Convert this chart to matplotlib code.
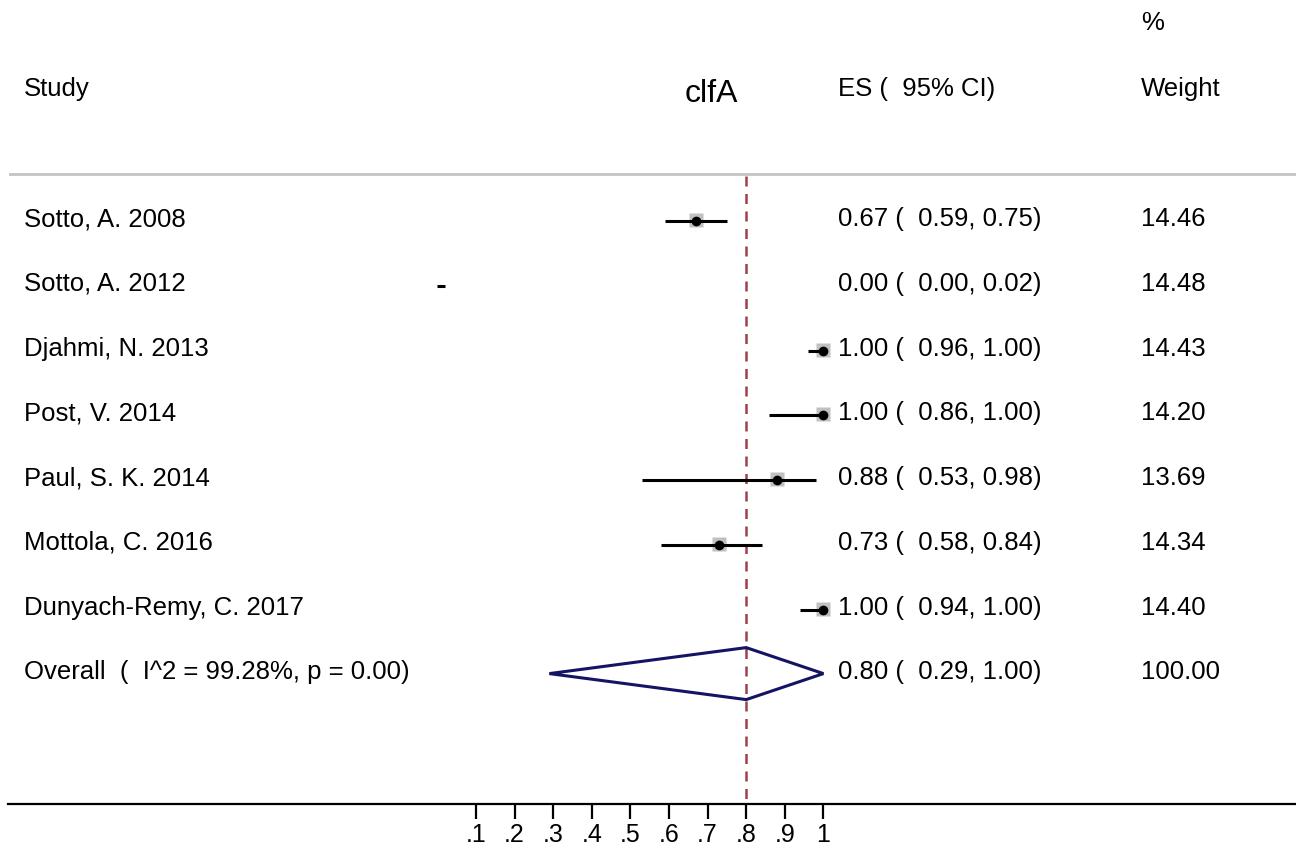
import matplotlib
matplotlib.use("Agg")
from matplotlib import pyplot as plt
from matplotlib.patches import Polygon

plt.rcParams['font.family'] = ['Liberation Sans', 'DejaVu Sans']

studies = ["Sotto, A. 2008", "Sotto, A. 2012", "Djahmi, N. 2013", "Post, V. 2014",
           "Paul, S. K. 2014", "Mottola, C. 2016", "Dunyach-Remy, C. 2017"]
es = [0.67, 0.00, 1.00, 1.00, 0.88, 0.73, 1.00]
lo = [0.59, 0.00, 0.96, 0.86, 0.53, 0.58, 0.94]
hi = [0.75, 0.02, 1.00, 1.00, 0.98, 0.84, 1.00]
weight = [14.46, 14.48, 14.43, 14.20, 13.69, 14.34, 14.40]

overall_label = "Overall  (  I^2 = 99.28%, p = 0.00)"
overall_es, overall_lo, overall_hi = 0.80, 0.29, 1.00
overall_weight = 100.00

ticks = [0.1, 0.2, 0.3, 0.4, 0.5, 0.6, 0.7, 0.8, 0.9, 1.0]
tick_labels = [".1", ".2", ".3", ".4", ".5", ".6", ".7", ".8", ".9", "1"]

W, H = 1296, 853
fig = plt.figure(figsize=(W / 100, H / 100), dpi=100)

# axes: x in data units, y in pixels from top; bottom spine is the scale line
x0_px, x_scale = 437.4, 386.0
ax_left, ax_bottom = 8, 805
ax = fig.add_axes([ax_left / W, (H - ax_bottom) / H, 1 - ax_left / W, ax_bottom / H])
ax.set_xlim((ax_left - x0_px) / x_scale, (W - x0_px) / x_scale)
ax.set_ylim(ax_bottom, 0)
for s in ["top", "left", "right"]:
    ax.spines[s].set_visible(False)
ax.spines["bottom"].set_linewidth(1.6)
ax.set_yticks([])
ax.set_xticks(ticks)
ax.set_xticklabels(tick_labels, fontsize=18)
ax.tick_params(axis="x", length=11, width=1.6, direction="out", pad=2)

def px(x):
    return (x - x0_px) / x_scale

fs = 18.5
# header
ax.text(px(24), 89, "Study", fontsize=fs, va="center", ha="left")
ax.text(px(711), 94, "clfA", fontsize=23, va="center", ha="center")
ax.text(px(838), 89, "ES (  95% CI)", fontsize=fs, va="center", ha="left")
ax.text(px(1141), 23, "%", fontsize=fs, va="center", ha="left")
ax.text(px(1141), 89, "Weight", fontsize=fs, va="center", ha="left")
ax.plot([px(10), px(W)], [175, 175], color="#c4c4c4", lw=2, clip_on=False)

# reference line at overall effect
ax.plot([overall_es, overall_es], [177, ax_bottom], color="#a0404a", lw=1.8,
        ls=(0, (4, 3)), zorder=1)

row0, step = 219, 64.8
for i, name in enumerate(studies):
    y = row0 + i * step
    ax.text(px(24), y, name, fontsize=fs, va="center", ha="left")
    ax.text(px(838), y, "%.2f (  %.2f, %.2f)" % (es[i], lo[i], hi[i]),
            fontsize=fs, va="center", ha="left")
    ax.text(px(1141), y, "%.2f" % weight[i], fontsize=fs, va="center", ha="left")
    ax.plot([lo[i], hi[i]], [y + 3, y + 3], color="black", lw=2.2, solid_capstyle="butt", zorder=3)
    if es[i] >= ticks[0]:
        ax.plot(es[i], y + 2, marker="s", ms=10, color="#c0c0c0", mec="none", zorder=2)
        ax.plot(es[i], y + 3, marker="o", ms=7, color="black", mec="none", zorder=4)

yo = row0 + len(studies) * step
ax.text(px(24), yo - 1, overall_label, fontsize=fs, va="center", ha="left")
ax.text(px(838), yo - 1, "%.2f (  %.2f, %.2f)" % (overall_es, overall_lo, overall_hi),
        fontsize=fs, va="center", ha="left")
ax.text(px(1141), yo - 1, "%.2f" % overall_weight, fontsize=fs, va="center", ha="left")
diamond = Polygon([[overall_lo, yo + 2], [overall_es, yo - 24], [overall_hi, yo + 2],
                   [overall_es, yo + 28]], closed=True, fill=False,
                  edgecolor="#141464", lw=2.2, zorder=3)
ax.add_patch(diamond)

fig.savefig("out.png", dpi=100, facecolor="white")
